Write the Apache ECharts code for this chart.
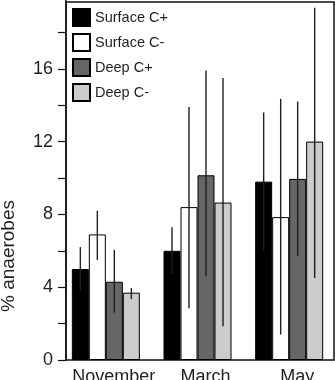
<!DOCTYPE html>
<html>
<head>
<meta charset="utf-8">
<script src="https://cdn.jsdelivr.net/npm/echarts@6/dist/echarts.min.js"></script>
<style>
  html, body { margin: 0; padding: 0; background: #fff; }
  #chart { width: 335px; height: 380px; }
</style>
</head>
<body>
<div id="chart"></div>
<script>
const months = ["November", "March", "May"];
const seriesNames = ["Surface C+", "Surface C-", "Deep C+", "Deep C-"];
const colores = ["#000000", "#ffffff", "#666666", "#cccccc"];

// bar heights, one array per treatment (Nov, Mar, May)
const surfacePlus = [5.0, 6.0, 9.8];
const surfaceMinus = [6.9, 8.4, 7.85];
const deepPlus = [4.3, 10.15, 9.95];
const deepMinus = [3.7, 8.65, 12.0];

// error bar ends [low, high]
const surfacePlusErr = [[3.8, 6.2], [4.7, 7.3], [6.0, 13.6]];
const surfaceMinusErr = [[5.5, 8.2], [2.85, 13.9], [1.4, 14.35]];
const deepPlusErr = [[2.6, 6.05], [4.6, 15.9], [5.7, 14.2]];
const deepMinusErr = [[3.35, 3.95], [1.85, 15.5], [4.5, 19.35]];

const yTicks = [0, 4, 8, 12, 16];

const valores = [surfacePlus, surfaceMinus, deepPlus, deepMinus];
const errores = [surfacePlusErr, surfaceMinusErr, deepPlusErr, deepMinusErr];

const anchoBarra = 17;
const fuente = "Liberation Sans, Arial, sans-serif";

const chart = echarts.init(document.getElementById("chart"));

const barSeries = seriesNames.map((name, i) => ({
  name: name,
  type: "bar",
  xAxisIndex: 1,
  yAxisIndex: 1,
  barWidth: anchoBarra,
  barGap: "0%",
  itemStyle: { color: colores[i], borderColor: "#000", borderWidth: 1 },
  animation: false,
  data: valores[i],
}));

const errorSeries = seriesNames.map((name, i) => ({
  type: "custom",
  xAxisIndex: 1,
  yAxisIndex: 1,
  silent: true,
  animation: false,
  z: 5,
  renderItem: (params, api) => {
    const cat = api.value(0);
    const lo = api.coord([cat, api.value(1)]);
    const hi = api.coord([cat, api.value(2)]);
    const dx = (i - 1.5) * anchoBarra;
    return {
      type: "line",
      shape: { x1: lo[0] + dx, y1: lo[1], x2: hi[0] + dx, y2: hi[1] },
      style: { stroke: "#1e1e1e", lineWidth: 1.4 },
    };
  },
  encode: { x: 0, y: [1, 2] },
  data: errores[i].map((e, k) => [k, e[0], e[1]]),
}));

const option = {
  animation: false,
  textStyle: { fontFamily: fuente },
  grid: [
    // eje con marcas (escala 0-20, el tope queda fuera del lienzo)
    { left: 66, right: 1, top: -4, bottom: 20, outerBoundsMode: "none" },
    // barras
    { left: 60, right: 0, top: -4, bottom: 20, outerBoundsMode: "none" },
    // marco
    { left: 66, right: 1, top: 2, bottom: 20, show: true, borderColor: "#111", borderWidth: 1.5, outerBoundsMode: "none" },
  ],
  legend: {
    orient: "vertical",
    left: 72,
    top: 8,
    padding: 0,
    itemWidth: 17,
    itemHeight: 17,
    itemGap: 6,
    icon: "rect",
    textStyle: { fontSize: 14.5, color: "#231f20", fontFamily: fuente },
    data: seriesNames,
  },
  xAxis: [
    { gridIndex: 0, type: "value", show: false, min: 0, max: 1 },
    {
      gridIndex: 1,
      type: "category",
      data: months,
      axisLine: { show: false },
      axisTick: { show: false },
      axisLabel: {
        interval: 0,
        hideOverlap: false,
        fontSize: 18,
        color: "#231f20",
        margin: 8,
        padding: [0, 0, 0, 16],
      },
    },
    { gridIndex: 2, type: "value", show: false, min: 0, max: 1 },
  ],
  yAxis: [
    {
      gridIndex: 0,
      type: "value",
      min: 0,
      max: 20,
      interval: 2,
      axisLine: { show: true, lineStyle: { color: "#111", width: 1.5 } },
      axisTick: { show: true, length: 8, lineStyle: { color: "#111", width: 1.2 } },
      splitLine: { show: false },
      axisLabel: {
        fontSize: 18,
        color: "#231f20",
        margin: 13,
        formatter: (v) => (yTicks.includes(v) ? String(v) : ""),
      },
    },
    { gridIndex: 1, type: "value", min: 0, max: 20, show: false, splitLine: { show: false } },
    { gridIndex: 2, type: "value", min: 0, max: 1, show: false, splitLine: { show: false } },
  ],
  graphic: [
    {
      type: "text",
      x: 9,
      y: 256,
      rotation: Math.PI / 2,
      style: {
        text: "% anaerobes",
        font: "19px " + fuente,
        fill: "#231f20",
        textAlign: "center",
        textVerticalAlign: "middle",
      },
    },
  ],
  series: [...barSeries, ...errorSeries],
};

chart.setOption(option);
</script>
</body>
</html>
